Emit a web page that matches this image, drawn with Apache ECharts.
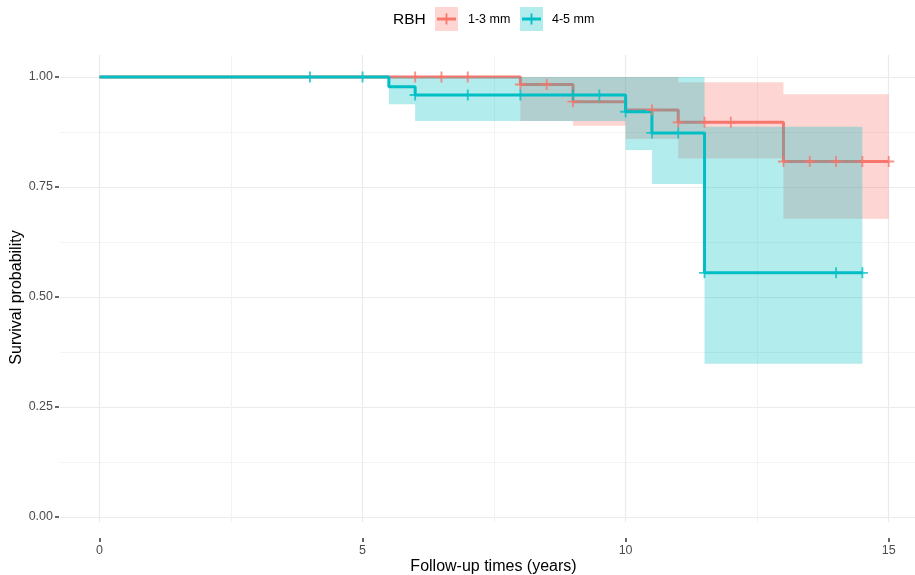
<!DOCTYPE html>
<html>
<head>
<meta charset="utf-8">
<script src="https://cdn.jsdelivr.net/npm/echarts@6/dist/echarts.min.js"></script>
<style>
  html, body { margin: 0; padding: 0; background: #ffffff; }
  #chart { width: 915px; height: 575px; }
</style>
</head>
<body>
<div id="chart"></div>
<script>
// Kaplan-Meier survival by RBH group

const groupNames = ['1-3 mm', '4-5 mm'];
const groupColors = ['#F8766D', '#00BFC4'];

// Step curve: time of each change and survival from that time on
const redTimes = [0, 8, 9, 10, 11, 13, 15];
const redSurv = [1, 0.983, 0.944, 0.925, 0.897, 0.808, 0.808];
const tealTimes = [0, 5.5, 6, 10, 10.5, 11.5, 14.5];
const tealSurv = [1, 0.978, 0.959, 0.921, 0.873, 0.555, 0.555];

// Confidence band pieces: [start, end) with lower / upper limit
const redBandStart = [8, 9, 10, 11, 13];
const redBandEnd = [9, 10, 11, 13, 15];
const redLower = [0.900, 0.889, 0.859, 0.815, 0.678];
const redUpper = [1.000, 1.000, 1.000, 0.988, 0.961];

const tealBandStart = [5.5, 6, 10, 10.5, 11.5];
const tealBandEnd = [6, 10, 10.5, 11.5, 14.5];
const tealLower = [0.938, 0.900, 0.834, 0.757, 0.348];
const tealUpper = [1.000, 1.000, 1.000, 1.000, 0.887];

// Censoring times
const redCensor = [6, 6.5, 7, 8, 8.5, 9, 10.5, 11, 11.5, 12, 13, 13.5, 14, 14.5, 15];
const tealCensor = [4, 5, 6, 7, 8, 9, 9.5, 10, 10.5, 11, 11.5, 14, 14.5];

// Axis ticks
const xTicks = [0, 5, 10, 15];
const xMinorTicks = [2.5, 7.5, 12.5];
const yTicks = [0, 0.25, 0.5, 0.75, 1];
const yMinorTicks = [0.125, 0.375, 0.625, 0.875];

function zip(a, b) { return a.map((v, i) => [v, b[i]]); }
function bandRows(s, e, lo, hi) { return s.map((v, i) => [v, e[i], lo[i], hi[i]]); }
function survAt(times, surv, t) {
  let k = 0;
  for (let i = 0; i < times.length; i++) if (times[i] <= t) k = i;
  return surv[k];
}
function censorPoints(times, surv, cens) { return cens.map(t => [t, survAt(times, surv, t)]); }

// One translucent polygon per band, built from all pieces
function bandRenderer(color) {
  return function (params, api) {
    if (params.dataIndexInside !== 0) return null;
    const n = params.dataInsideLength;
    const top = [], bottom = [];
    for (let i = 0; i < n; i++) {
      const t0 = api.value(0, i), t1 = api.value(1, i);
      const lo = api.value(2, i), hi = api.value(3, i);
      top.push(api.coord([t0, hi]), api.coord([t1, hi]));
      bottom.push(api.coord([t0, lo]), api.coord([t1, lo]));
    }
    return {
      type: 'polygon',
      shape: { points: top.concat(bottom.reverse()) },
      style: { fill: color, opacity: 0.3 }
    };
  };
}

const plusPath = 'path://M-1,-6H1V-1H6V1H1V6H-1V1H-6V-1H-1Z';
const fontFamily = 'Liberation Sans, Arial, sans-serif';
const tickTextColor = '#4D4D4D';
const gridMajor = '#EBEBEB';
const gridMinor = '#F3F3F3';

const chart = echarts.init(document.getElementById('chart'), null, { renderer: 'canvas' });

chart.setOption({
  backgroundColor: '#ffffff',
  animation: false,
  grid: { left: 60, right: 0, top: 55, bottom: 53, containLabel: false, outerBoundsMode: 'none' },
  xAxis: [
    {
      type: 'value', min: -0.75, max: 15.5, position: 'bottom', offset: 16,
      axisLine: { show: false, onZero: false },
      axisTick: { show: true, length: 4, customValues: xTicks, lineStyle: { color: '#333333', width: 1.5 } },
      axisLabel: { customValues: xTicks, color: tickTextColor, fontSize: 12.5, margin: 6, fontFamily: fontFamily },
      splitLine: { show: true, lineStyle: { color: gridMajor, width: 1.2 } },
      name: 'Follow-up times (years)', nameLocation: 'middle', nameGap: 21, nameMoveOverlap: false,
      nameTextStyle: { color: '#000000', fontSize: 16, padding: [0, 0, 0, 12], fontFamily: fontFamily }
    },
    {
      type: 'value', min: -0.75, max: 15.5, position: 'top',
      axisLine: { show: false, onZero: false },
      axisTick: { show: false, customValues: xMinorTicks },
      axisLabel: { show: false, customValues: xMinorTicks },
      splitLine: { show: true, lineStyle: { color: gridMinor, width: 1 } }
    }
  ],
  yAxis: [
    {
      type: 'value', min: -0.0114, max: 1.05, offset: 1,
      axisLine: { show: false, onZero: false },
      axisTick: { show: true, length: 4, customValues: yTicks, lineStyle: { color: '#333333', width: 1.5 } },
      axisLabel: { customValues: yTicks, color: tickTextColor, fontSize: 12.5, margin: 6,
        formatter: v => v.toFixed(2), fontFamily: fontFamily },
      splitLine: { show: true, lineStyle: { color: gridMajor, width: 1.2 } },
      name: 'Survival probability', nameLocation: 'middle', nameGap: 34, nameRotate: 90, nameMoveOverlap: false,
      nameTextStyle: { color: '#000000', fontSize: 16, padding: [0, 18, 0, 0], fontFamily: fontFamily }
    },
    {
      type: 'value', min: -0.0114, max: 1.05, position: 'right',
      axisLine: { show: false, onZero: false },
      axisTick: { show: false, customValues: yMinorTicks },
      axisLabel: { show: false, customValues: yMinorTicks },
      splitLine: { show: true, lineStyle: { color: gridMinor, width: 1 } }
    }
  ],
  graphic: [
    { type: 'text', left: 393, top: 12, style: { text: 'RBH', fontSize: 15.5, fill: '#000000', fontFamily: fontFamily } },
    { type: 'rect', shape: { x: 435, y: 7, width: 23, height: 24 }, style: { fill: groupColors[0], opacity: 0.3 } },
    { type: 'line', shape: { x1: 437, y1: 19, x2: 456, y2: 19 }, style: { stroke: groupColors[0], lineWidth: 3 } },
    { type: 'line', shape: { x1: 446.5, y1: 13.5, x2: 446.5, y2: 24.5 }, style: { stroke: groupColors[0], lineWidth: 1.8 } },
    { type: 'text', left: 468, top: 13.5, style: { text: groupNames[0], fontSize: 12.5, fill: '#000000', fontFamily: fontFamily } },
    { type: 'rect', shape: { x: 520, y: 7, width: 23, height: 24 }, style: { fill: groupColors[1], opacity: 0.3 } },
    { type: 'line', shape: { x1: 522, y1: 19, x2: 541, y2: 19 }, style: { stroke: groupColors[1], lineWidth: 3 } },
    { type: 'line', shape: { x1: 531.5, y1: 13.5, x2: 531.5, y2: 24.5 }, style: { stroke: groupColors[1], lineWidth: 1.8 } },
    { type: 'text', left: 552, top: 13.5, style: { text: groupNames[1], fontSize: 12.5, fill: '#000000', fontFamily: fontFamily } }
  ],
  series: [
    {
      name: groupNames[0] + ' band', type: 'custom', z: 1, silent: true,
      renderItem: bandRenderer(groupColors[0]),
      encode: { x: [0, 1], y: [2, 3] },
      data: bandRows(redBandStart, redBandEnd, redLower, redUpper)
    },
    {
      name: groupNames[0], type: 'line', z: 2, step: 'end', symbol: 'none',
      lineStyle: { color: groupColors[0], width: 3 },
      data: zip(redTimes, redSurv)
    },
    {
      name: groupNames[1] + ' band', type: 'custom', z: 3, silent: true,
      renderItem: bandRenderer(groupColors[1]),
      encode: { x: [0, 1], y: [2, 3] },
      data: bandRows(tealBandStart, tealBandEnd, tealLower, tealUpper)
    },
    {
      name: groupNames[1], type: 'line', z: 4, step: 'end', symbol: 'none',
      lineStyle: { color: groupColors[1], width: 3 },
      data: zip(tealTimes, tealSurv)
    },
    {
      name: groupNames[0] + ' censored', type: 'scatter', z: 5,
      symbol: plusPath, symbolSize: 11,
      itemStyle: { color: groupColors[0] },
      data: censorPoints(redTimes, redSurv, redCensor)
    },
    {
      name: groupNames[1] + ' censored', type: 'scatter', z: 6,
      symbol: plusPath, symbolSize: 11,
      itemStyle: { color: groupColors[1] },
      data: censorPoints(tealTimes, tealSurv, tealCensor)
    }
  ]
});
</script>
</body>
</html>
